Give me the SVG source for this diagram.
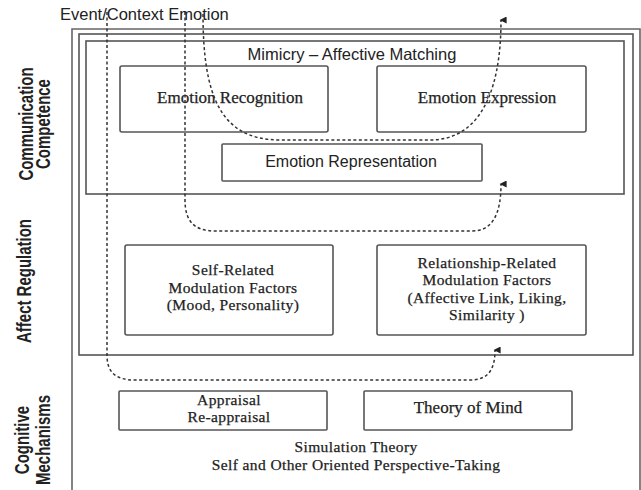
<svg xmlns="http://www.w3.org/2000/svg" width="641" height="490" viewBox="0 0 641 490">
<defs>
<style>
.frame{fill:none;stroke:#555;stroke-width:1.6}
.box{fill:#fff;stroke:#555;stroke-width:1.6}
.serif{font-family:"Liberation Serif","Times New Roman",serif;font-size:17px;fill:#222;stroke:#222;stroke-width:0.25;text-anchor:middle}
.sm{font-size:15.5px;letter-spacing:0.4px}
.sans{font-family:"Liberation Sans",Arial,sans-serif;font-size:16.5px;fill:#222}
.lab{font-family:"Liberation Sans",Arial,sans-serif;font-size:15px;font-weight:bold;fill:#222;text-anchor:middle}
.dash{fill:none;stroke:#333;stroke-width:1.5;stroke-dasharray:3 2.5}
</style>
<marker id="arr" viewBox="0 0 10 10" refX="5" refY="2" markerWidth="7" markerHeight="9" orient="auto-start-reverse" markerUnits="userSpaceOnUse">
<path d="M0,10 L5,0 L10,10 Z" fill="#222"/>
</marker>
</defs>
<rect width="641" height="490" fill="#fff"/>

<g id="frames">
<path class="frame" d="M72,490 V29 H640 V490" style="stroke:#666"/>
<rect class="frame" x="79" y="34" width="554" height="321"/>
<rect class="frame" x="86" y="41" width="538" height="153"/>
</g>

<g id="side-labels">
<text class="lab" transform="translate(33,124) rotate(-90) scale(1,1.3)">Communication</text>
<text class="lab" transform="translate(50,124) rotate(-90) scale(1,1.3)">Competence</text>
<text class="lab" transform="translate(31,281) rotate(-90) scale(1,1.3)">Affect Regulation</text>
<text class="lab" transform="translate(29,440) rotate(-90) scale(1,1.3)">Cognitive</text>
<text class="lab" transform="translate(50,440) rotate(-90) scale(1,1.3)">Mechanisms</text>
</g>

<text class="sans" x="60" y="20">Event/Context Emotion</text>
<text class="sans" x="352" y="60" text-anchor="middle">Mimicry – Affective Matching</text>

<g id="emotion-recognition">
<rect class="box" x="120" y="66" width="208" height="66" rx="2"/>
<text class="serif" x="230" y="103">Emotion Recognition</text>
</g>
<g id="emotion-expression">
<rect class="box" x="377" y="66" width="209" height="66" rx="2"/>
<text class="serif" x="487" y="103">Emotion Expression</text>
</g>
<g id="emotion-representation">
<rect class="box" x="222" y="144" width="260" height="37" rx="1"/>
<text class="sans" x="351" y="167" text-anchor="middle" style="font-size:16px">Emotion Representation</text>
</g>
<g id="self-related">
<rect class="box" x="125" y="245" width="208" height="90" rx="2"/>
<text class="serif sm" x="233" y="275">Self-Related<tspan x="233" dy="17.5">Modulation Factors</tspan><tspan x="233" dy="17.5">(Mood, Personality)</tspan></text>
</g>
<g id="relationship-related">
<rect class="box" x="377" y="245" width="209" height="90" rx="2"/>
<text class="serif sm" x="487" y="267.5">Relationship-Related<tspan x="487" dy="17.5">Modulation Factors</tspan><tspan x="487" dy="17.5">(Affective Link, Liking,</tspan><tspan x="487" dy="17.5">Similarity )</tspan></text>
</g>
<g id="appraisal">
<rect class="box" x="119" y="391" width="208" height="39" rx="1"/>
<text class="serif sm" x="229" y="404.5">Appraisal<tspan x="229" dy="17.5">Re-appraisal</tspan></text>
</g>
<g id="theory-of-mind">
<rect class="box" x="364" y="391" width="208" height="39" rx="1"/>
<text class="serif" x="468" y="413">Theory of Mind</text>
</g>
<g id="simulation">
<text class="serif sm" x="356" y="452">Simulation Theory<tspan x="356" dy="17.5">Self and Other Oriented Perspective-Taking</tspan></text>
</g>

<g id="connectors">
<path class="dash" d="M107,12 V355 C107,372 115,380 135,380 H470 C488,380 495,370 495,350" marker-end="url(#arr)"/>
<path class="dash" d="M185,12 V200 C185,222 195,231 215,231 H472 C492,231 501,215 501,184" marker-end="url(#arr)"/>
<path class="dash" d="M203,14 C203,95 220,140 280,140 H430 C475,140 501,100 501,20" marker-end="url(#arr)"/>
</g>
</svg>
